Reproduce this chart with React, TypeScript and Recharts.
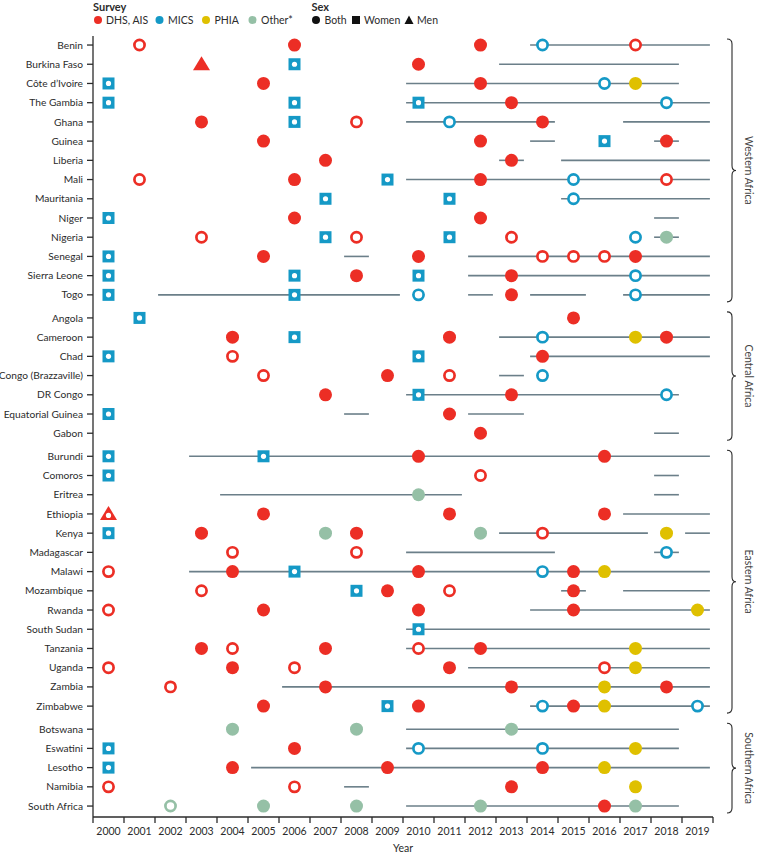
import { ScatterChart, Scatter, XAxis, YAxis } from "recharts";

// rows, grouped by region (top to bottom)
const regions = [
  { name: "Western Africa", countries: ["Benin", "Burkina Faso", "Côte d’Ivoire", "The Gambia", "Ghana", "Guinea", "Liberia", "Mali", "Mauritania", "Niger", "Nigeria", "Senegal", "Sierra Leone", "Togo"] },
  { name: "Central Africa", countries: ["Angola", "Cameroon", "Chad", "Congo (Brazzaville)", "DR Congo", "Equatorial Guinea", "Gabon"] },
  { name: "Eastern Africa", countries: ["Burundi", "Comoros", "Eritrea", "Ethiopia", "Kenya", "Madagascar", "Malawi", "Mozambique", "Rwanda", "South Sudan", "Tanzania", "Uganda", "Zambia", "Zimbabwe"] },
  { name: "Southern Africa", countries: ["Botswana", "Eswatini", "Lesotho", "Namibia", "South Africa"] },
];

const years = [2000, 2001, 2002, 2003, 2004, 2005, 2006, 2007, 2008, 2009, 2010, 2011, 2012, 2013, 2014, 2015, 2016, 2017, 2018, 2019];

// [country, survey years]
const dhsBoth: [string, number[]][] = [
  ["Benin", [2006, 2012]], ["Burkina Faso", [2010]], ["Côte d’Ivoire", [2005, 2012]], ["The Gambia", [2013]],
  ["Ghana", [2003, 2014]], ["Guinea", [2005, 2012, 2018]], ["Liberia", [2007, 2013]], ["Mali", [2006, 2012]],
  ["Niger", [2006, 2012]], ["Senegal", [2005, 2010, 2017]], ["Sierra Leone", [2008, 2013]], ["Togo", [2013]],
  ["Angola", [2015]], ["Cameroon", [2004, 2011, 2018]], ["Chad", [2014]], ["Congo (Brazzaville)", [2009]],
  ["DR Congo", [2007, 2013]], ["Equatorial Guinea", [2011]], ["Gabon", [2012]], ["Burundi", [2010, 2016]],
  ["Ethiopia", [2005, 2011, 2016]], ["Kenya", [2003, 2008]], ["Malawi", [2004, 2010, 2015]], ["Mozambique", [2009, 2015]],
  ["Rwanda", [2005, 2010, 2015]], ["Tanzania", [2003, 2007, 2012]], ["Uganda", [2004, 2011]], ["Zambia", [2007, 2013, 2018]],
  ["Zimbabwe", [2005, 2010, 2015]], ["Eswatini", [2006]], ["Lesotho", [2004, 2009, 2014]], ["Namibia", [2013]],
  ["South Africa", [2016]],
];
const dhsOpen: [string, number[]][] = [
  ["Benin", [2001, 2017]], ["Ghana", [2008]], ["Mali", [2001, 2018]], ["Nigeria", [2003, 2008, 2013]],
  ["Senegal", [2014, 2015, 2016]], ["Chad", [2004]], ["Congo (Brazzaville)", [2005, 2011]], ["Comoros", [2012]],
  ["Kenya", [2014]], ["Madagascar", [2004, 2008]], ["Malawi", [2000]], ["Mozambique", [2003, 2011]],
  ["Rwanda", [2000]], ["Tanzania", [2004, 2010]], ["Uganda", [2000, 2006, 2016]], ["Zambia", [2002]],
  ["Namibia", [2000, 2006]],
];
const dhsMen: [string, number[]][] = [["Burkina Faso", [2003]]];
const dhsMenOpen: [string, number[]][] = [["Ethiopia", [2000]]];
const micsWomen: [string, number[]][] = [
  ["Burkina Faso", [2006]], ["Côte d’Ivoire", [2000]], ["The Gambia", [2000, 2006, 2010]], ["Ghana", [2006]],
  ["Guinea", [2016]], ["Mali", [2009]], ["Mauritania", [2007, 2011]], ["Niger", [2000]], ["Nigeria", [2007, 2011]],
  ["Senegal", [2000]], ["Sierra Leone", [2000, 2006, 2010]], ["Togo", [2000, 2006]], ["Angola", [2001]],
  ["Cameroon", [2006]], ["Chad", [2000, 2010]], ["DR Congo", [2010]], ["Equatorial Guinea", [2000]],
  ["Burundi", [2000, 2005]], ["Comoros", [2000]], ["Kenya", [2000]], ["Malawi", [2006]], ["Mozambique", [2008]],
  ["South Sudan", [2010]], ["Zimbabwe", [2009]], ["Eswatini", [2000]], ["Lesotho", [2000]],
];
const micsOpen: [string, number[]][] = [
  ["Benin", [2014]], ["Côte d’Ivoire", [2016]], ["The Gambia", [2018]], ["Ghana", [2011]], ["Mali", [2015]],
  ["Mauritania", [2015]], ["Nigeria", [2017]], ["Sierra Leone", [2017]], ["Togo", [2010, 2017]],
  ["Cameroon", [2014]], ["Congo (Brazzaville)", [2014]], ["DR Congo", [2018]], ["Madagascar", [2018]],
  ["Malawi", [2014]], ["Zimbabwe", [2014, 2019]], ["Eswatini", [2010, 2014]],
];
const phiaBoth: [string, number[]][] = [
  ["Côte d’Ivoire", [2017]], ["Cameroon", [2017]], ["Kenya", [2018]], ["Malawi", [2016]], ["Rwanda", [2019]],
  ["Tanzania", [2017]], ["Uganda", [2017]], ["Zambia", [2016]], ["Zimbabwe", [2016]], ["Eswatini", [2017]],
  ["Lesotho", [2016]], ["Namibia", [2017]],
];
const otherBoth: [string, number[]][] = [
  ["Nigeria", [2018]], ["Eritrea", [2010]], ["Kenya", [2007, 2012]], ["Botswana", [2004, 2008, 2013]],
  ["South Africa", [2005, 2008, 2012, 2017]],
];
const otherOpen: [string, number[]][] = [["South Africa", [2002]]];

// [country, first year, last year] of the grey spans
const spans: [string, number, number][] = [
  ["Benin", 2014, 2019], ["Burkina Faso", 2013, 2018], ["Côte d’Ivoire", 2010, 2018], ["The Gambia", 2010, 2019],
  ["Ghana", 2010, 2014], ["Ghana", 2017, 2019], ["Guinea", 2014, 2014], ["Guinea", 2018, 2018],
  ["Liberia", 2013, 2013], ["Liberia", 2015, 2019], ["Mali", 2010, 2019], ["Mauritania", 2015, 2019],
  ["Niger", 2018, 2018], ["Nigeria", 2018, 2018], ["Senegal", 2008, 2008], ["Senegal", 2012, 2019],
  ["Sierra Leone", 2012, 2019], ["Togo", 2002, 2009], ["Togo", 2012, 2012], ["Togo", 2014, 2015], ["Togo", 2017, 2019],
  ["Cameroon", 2013, 2019], ["Chad", 2014, 2019], ["Congo (Brazzaville)", 2013, 2013], ["DR Congo", 2010, 2018],
  ["Equatorial Guinea", 2008, 2008], ["Equatorial Guinea", 2012, 2013], ["Gabon", 2018, 2018],
  ["Burundi", 2003, 2019], ["Comoros", 2018, 2018], ["Eritrea", 2004, 2011], ["Eritrea", 2018, 2018],
  ["Ethiopia", 2017, 2019], ["Kenya", 2013, 2017], ["Kenya", 2019, 2019], ["Madagascar", 2010, 2014],
  ["Madagascar", 2018, 2018], ["Malawi", 2003, 2019], ["Mozambique", 2015, 2015], ["Mozambique", 2017, 2019],
  ["Rwanda", 2014, 2019], ["South Sudan", 2010, 2019], ["Tanzania", 2010, 2019], ["Uganda", 2012, 2019],
  ["Zambia", 2006, 2019], ["Zimbabwe", 2014, 2019], ["Botswana", 2010, 2018], ["Eswatini", 2010, 2018],
  ["Lesotho", 2005, 2019], ["Namibia", 2008, 2008], ["South Africa", 2010, 2018],
];

const RED = "#ec2e25";
const BLUE = "#1599c6";
const YELLOW = "#dfc000";
const GREEN = "#95c0a6";
const SPAN = "#6b7f89";
const INK = "#2b2b2b";
const FONT = "Lato, 'Open Sans', sans-serif";

const W = 757;
const H = 854;
const LEFT = 93;
const RIGHT = 713;
const TOP = 36;
const BOTTOM = 817;
const Y_DOMAIN: [number, number] = [-0.47, 40.17];
const GAP = 0.2;

// row position: index plus a small gap between regions
const rowOf: Record<string, number> = {};
let idx = 0;
regions.forEach((r, g) => {
  r.countries.forEach((c) => {
    rowOf[c] = idx + g * GAP;
    idx++;
  });
});
const rowTicks = Object.values(rowOf);
const nameOf = (v: number) => Object.keys(rowOf).find((k) => Math.abs(rowOf[k] - v) < 0.01) ?? "";

const toPoints = (list: [string, number[]][]) =>
  list.flatMap(([c, ys]) => ys.map((y) => ({ x: y + 0.5, y: rowOf[c] })));

const yPx = (v: number) => TOP + ((v - Y_DOMAIN[0]) / (Y_DOMAIN[1] - Y_DOMAIN[0])) * (BOTTOM - TOP);
const halfYear = (RIGHT - LEFT) / (years.length * 2);

const Dot = (color: string) => (p: any) => <circle cx={p.cx} cy={p.cy} r={6.5} fill={color} />;
const Ring = (color: string) => (p: any) => (
  <circle cx={p.cx} cy={p.cy} r={5.1} fill="#fff" stroke={color} strokeWidth={2.7} />
);
const Square = (color: string) => (p: any) => (
  <g>
    <rect x={p.cx - 6} y={p.cy - 6} width={12} height={12} fill={color} />
    <circle cx={p.cx} cy={p.cy} r={2.6} fill="#fff" />
  </g>
);
const Tri = (color: string, open: boolean) => (p: any) => (
  <g>
    <polygon points={`${p.cx},${p.cy - 8} ${p.cx - 8.5},${p.cy + 6} ${p.cx + 8.5},${p.cy + 6}`} fill={color} />
    {open && <circle cx={p.cx} cy={p.cy + 1.5} r={2.6} fill="#fff" />}
  </g>
);
const Nothing = () => <g />;

const XTick = (p: any) => {
  const v = p.payload.value;
  if (v >= 2020) return <g />;
  return (
    <text x={p.x + halfYear} y={p.y + 9.5} textAnchor="middle" fontSize={10.5} fill={INK} fontFamily={FONT}>
      {v}
    </text>
  );
};

const YTick = (p: any) => (
  <text x={p.x} y={p.y + 3.6} textAnchor="end" fontSize={10.2} fill={INK} fontFamily={FONT}>
    {nameOf(p.payload.value)}
  </text>
);

function Brace({ top, bottom, x }: { top: number; bottom: number; x: number }) {
  const mid = (top + bottom) / 2;
  const d = `M${x},${top} Q${x + 5},${top} ${x + 5},${top + 5} L${x + 5},${mid - 5} Q${x + 5},${mid} ${x + 9},${mid} Q${x + 5},${mid} ${x + 5},${mid + 5} L${x + 5},${bottom - 5} Q${x + 5},${bottom} ${x},${bottom}`;
  return <path d={d} fill="none" stroke={INK} strokeWidth={1.1} />;
}

export default function App() {
  const legendY = 20;
  return (
    <div style={{ position: "absolute", left: 0, top: 0, width: W, height: H, background: "#fff" }}>
      <ScatterChart width={W} height={H} margin={{ top: TOP, right: W - RIGHT, bottom: 0, left: 0 }}>
        <XAxis
          type="number"
          dataKey="x"
          domain={[2000, 2020]}
          ticks={[...years, 2020]}
          interval={0}
          tick={XTick}
          tickSize={6}
          tickMargin={2}
          height={H - BOTTOM}
          axisLine={{ stroke: INK, strokeWidth: 1.3 }}
          tickLine={{ stroke: INK, strokeWidth: 1.3 }}
          allowDataOverflow
        />
        <YAxis
          type="number"
          dataKey="y"
          domain={Y_DOMAIN}
          reversed
          ticks={rowTicks}
          interval={0}
          width={LEFT}
          tick={YTick}
          tickSize={6}
          tickMargin={4}
          axisLine={{ stroke: INK, strokeWidth: 1.3 }}
          tickLine={{ stroke: INK, strokeWidth: 1.3 }}
          allowDataOverflow
        />
        {spans.map(([c, a, b], i) => (
          <Scatter
            key={"s" + i}
            data={[{ x: a + 0.1, y: rowOf[c] }, { x: b + 0.9, y: rowOf[c] }]}
            line={{ stroke: SPAN, strokeWidth: 1.6 }}
            shape={Nothing}
            isAnimationActive={false}
          />
        ))}
        <Scatter data={toPoints(dhsBoth)} shape={Dot(RED)} isAnimationActive={false} />
        <Scatter data={toPoints(dhsOpen)} shape={Ring(RED)} isAnimationActive={false} />
        <Scatter data={toPoints(dhsMen)} shape={Tri(RED, false)} isAnimationActive={false} />
        <Scatter data={toPoints(dhsMenOpen)} shape={Tri(RED, true)} isAnimationActive={false} />
        <Scatter data={toPoints(micsWomen)} shape={Square(BLUE)} isAnimationActive={false} />
        <Scatter data={toPoints(micsOpen)} shape={Ring(BLUE)} isAnimationActive={false} />
        <Scatter data={toPoints(phiaBoth)} shape={Dot(YELLOW)} isAnimationActive={false} />
        <Scatter data={toPoints(otherBoth)} shape={Dot(GREEN)} isAnimationActive={false} />
        <Scatter data={toPoints(otherOpen)} shape={Ring(GREEN)} isAnimationActive={false} />
      </ScatterChart>

      <svg width={W} height={H} style={{ position: "absolute", left: 0, top: 0, pointerEvents: "none" }} fontFamily={FONT}>
        <text x={93} y={10.5} fontSize={11} fontWeight={700} fill={INK}>Survey</text>
        <circle cx={98} cy={legendY} r={4} fill={RED} />
        <text x={106} y={legendY + 3.7} fontSize={10.5} fill={INK}>DHS, AIS</text>
        <circle cx={159.5} cy={legendY} r={4} fill={BLUE} />
        <text x={168} y={legendY + 3.7} fontSize={10.5} fill={INK}>MICS</text>
        <circle cx={206} cy={legendY} r={4} fill={YELLOW} />
        <text x={214.5} y={legendY + 3.7} fontSize={10.5} fill={INK}>PHIA</text>
        <circle cx={252.5} cy={legendY} r={4} fill={GREEN} />
        <text x={261} y={legendY + 3.7} fontSize={10.5} fill={INK}>Other*</text>

        <text x={311.5} y={10.5} fontSize={11} fontWeight={700} fill={INK}>Sex</text>
        <circle cx={316} cy={legendY} r={4} fill="#111" />
        <text x={324.5} y={legendY + 3.7} fontSize={10.5} fill={INK}>Both</text>
        <rect x={352} y={legendY - 4} width={8} height={8} fill="#111" />
        <text x={364} y={legendY + 3.7} fontSize={10.5} fill={INK}>Women</text>
        <polygon points={`${409},${legendY - 4.5} ${404.5},${legendY + 4} ${413.5},${legendY + 4}`} fill="#111" />
        <text x={417} y={legendY + 3.7} fontSize={10.5} fill={INK}>Men</text>

        {regions.map((r) => {
          const first = yPx(rowOf[r.countries[0]]);
          const last = yPx(rowOf[r.countries[r.countries.length - 1]]);
          const top = first - 6;
          const bottom = last + 7;
          const mid = (top + bottom) / 2;
          return (
            <g key={r.name}>
              <Brace top={top} bottom={bottom} x={727} />
              <text
                x={745}
                y={mid}
                fontSize={10.5}
                fill="#444"
                textAnchor="middle"
                transform={`rotate(90 745 ${mid})`}
              >
                {r.name}
              </text>
            </g>
          );
        })}

        <text x={(LEFT + RIGHT) / 2} y={852} fontSize={10.5} fill={INK} textAnchor="middle">Year</text>
      </svg>
    </div>
  );
}
